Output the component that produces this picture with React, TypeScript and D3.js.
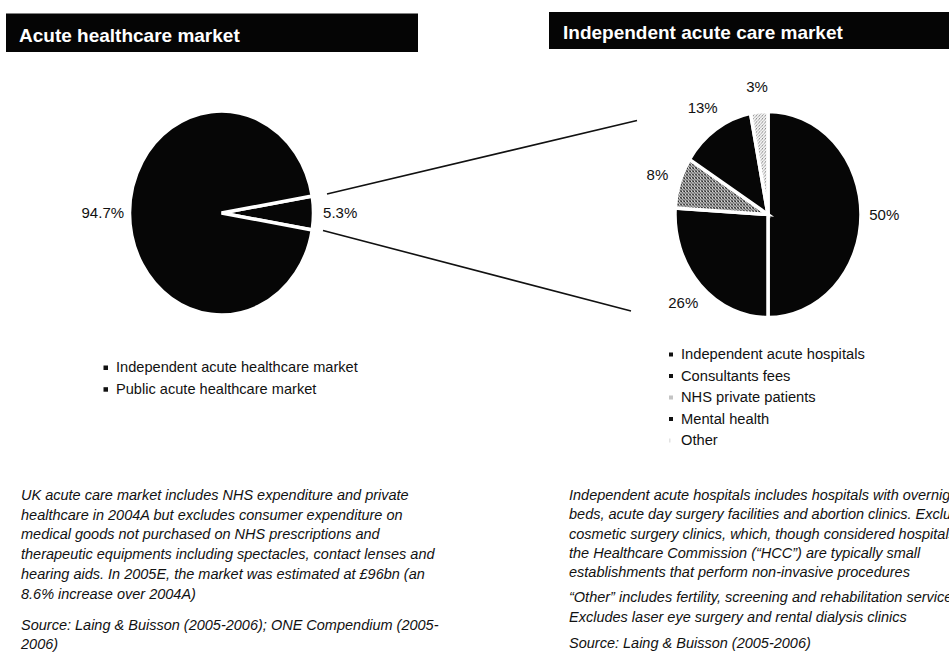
import React from "react";
import * as d3 from "d3";

// ---- Data ----
const acuteCategories = ["Independent acute healthcare market", "Public acute healthcare market"];
const acuteValues = [5.3, 94.7];
const acuteLabels = ["5.3%", "94.7%"];

const independentCategories = [
  "Independent acute hospitals",
  "Consultants fees",
  "NHS private patients",
  "Mental health",
  "Other",
];
const independentValues = [50, 26, 8, 13, 3];
const independentLabels = ["50%", "26%", "8%", "13%", "3%"];

const leftTitle = "Acute healthcare market";
const rightTitle = "Independent acute care market";

const leftNotes = [
  "UK acute care market includes NHS expenditure and private",
  "healthcare in 2004A but excludes consumer expenditure on",
  "medical goods not purchased on NHS prescriptions and",
  "therapeutic equipments including spectacles, contact lenses and",
  "hearing aids.  In 2005E, the market was estimated at £96bn (an",
  "8.6% increase over 2004A)",
];
const leftSource = ["Source: Laing & Buisson (2005-2006); ONE Compendium (2005-", "2006)"];

const rightNotes = [
  "Independent acute hospitals includes hospitals with overnight",
  "beds, acute day surgery facilities and abortion clinics. Excludes",
  "cosmetic surgery clinics, which, though considered hospitals by",
  "the Healthcare Commission (\u201CHCC\u201D) are typically small",
  "establishments that perform non-invasive procedures",
];
const rightOther = [
  "\u201COther\u201D includes fertility, screening and rehabilitation services.",
  "Excludes laser eye surgery and rental dialysis clinics",
];
const rightSource = ["Source: Laing & Buisson (2005-2006)"];

// ---- Styles ----
const FONT = "'Liberation Sans', Arial, Helvetica, sans-serif";
const leftFills = ["#060606", "#060606"];
const rightFills = ["#060606", "#060606", "url(#halftoneDark)", "#060606", "url(#halftoneLight)"];
const rightLegendFills = ["#111", "#111", "#c4c4c4", "#111", "#e2e2e2"];

type PieProps = {
  values: number[];
  labels: string[];
  fills: string[];
  cx: number;
  cy: number;
  rx: number;
  ry: number;
  start: number;
  labelK: number;
};

function EllipsePie({ values, labels, fills, cx, cy, rx, ry, start, labelK }: PieProps) {
  const pie = d3
    .pie<number>()
    .sort(null)
    .value((d) => d)
    .startAngle(start)
    .endAngle(start + 2 * Math.PI);
  const arcs = pie(values);
  const arc = d3.arc<d3.PieArcDatum<number>>().innerRadius(0).outerRadius(rx);
  return (
    <g>
      <g transform={`translate(${cx},${cy}) scale(1,${ry / rx})`}>
        {arcs.map((a, i) => (
          <path
            key={i}
            d={arc(a) || ""}
            fill={fills[i]}
            stroke="#fff"
            strokeWidth={3.5}
            strokeLinejoin="miter"
            vectorEffect="non-scaling-stroke"
          />
        ))}
      </g>
      {arcs.map((a, i) => {
        const m = (a.startAngle + a.endAngle) / 2;
        const x = cx + Math.sin(m) * rx * labelK;
        const y = cy - Math.cos(m) * ry * labelK;
        return (
          <text
            key={"l" + i}
            x={x}
            y={y}
            dy="0.36em"
            textAnchor="middle"
            fontFamily={FONT}
            fontSize={15}
            fill="#111"
          >
            {labels[i]}
          </text>
        );
      })}
    </g>
  );
}

export default function App() {
  const W = 949;
  const H = 660;
  const leftStart = Math.PI / 2 - (acuteValues[0] / d3.sum(acuteValues)) * Math.PI;

  return (
    <div style={{ position: "absolute", left: 0, top: 0, width: W, height: H, overflow: "hidden", background: "#fff" }}>
      <svg width={W} height={H} viewBox={`0 0 ${W} ${H}`} style={{ display: "block" }}>
        <defs>
          <pattern id="halftoneDark" width={3} height={3} patternUnits="userSpaceOnUse">
            <rect width={3} height={3} fill="#d8d8d8" />
            <rect x={0} y={0} width={1} height={1} fill="#222" />
            <rect x={1} y={1} width={1} height={1} fill="#444" />
            <rect x={2} y={2} width={1} height={1} fill="#333" />
            <rect x={2} y={0} width={1} height={1} fill="#777" />
            <rect x={0} y={2} width={1} height={1} fill="#666" />
          </pattern>
          <pattern id="halftoneLight" width={3} height={3} patternUnits="userSpaceOnUse">
            <rect width={3} height={3} fill="#f2f2f2" />
            <rect x={0} y={0} width={1} height={1} fill="#888" />
            <rect x={2} y={1} width={1} height={1} fill="#aaa" />
            <rect x={1} y={2} width={1} height={1} fill="#bbb" />
          </pattern>
        </defs>

        {/* Title bars */}
        <rect x={6} y={13.5} width={412} height={38.5} fill="#050505" />
        <text x={19} y={41.5} fill="#fff" fontFamily={FONT} fontWeight="bold" fontSize={19}>
          {leftTitle}
        </text>
        <rect x={549} y={12} width={400} height={37} fill="#050505" />
        <text x={563} y={39} fill="#fff" fontFamily={FONT} fontWeight="bold" fontSize={19}>
          {rightTitle}
        </text>

        {/* Connector lines */}
        <line x1={327} y1={194} x2={637} y2={120.5} stroke="#111" strokeWidth={1.6} />
        <line x1={323} y1={230.5} x2={631} y2={311} stroke="#111" strokeWidth={1.6} />

        {/* Left pie */}
        <EllipsePie
          values={acuteValues}
          labels={acuteLabels}
          fills={leftFills}
          cx={221.5}
          cy={213}
          rx={92}
          ry={102}
          start={leftStart}
          labelK={1.29}
        />

        {/* Right pie */}
        <EllipsePie
          values={independentValues}
          labels={independentLabels}
          fills={rightFills}
          cx={768}
          cy={214.5}
          rx={93}
          ry={103}
          start={0}
          labelK={1.25}
        />

        {/* Left legend */}
        {acuteCategories.map((c, i) => (
          <g key={c}>
            <rect x={103.5} y={365.5 + i * 21.7} width={4.5} height={4.5} fill="#111" />
            <text x={116} y={372 + i * 21.7} fontFamily={FONT} fontSize={14.6} fill="#111">
              {c}
            </text>
          </g>
        ))}

        {/* Right legend */}
        {independentCategories.map((c, i) => (
          <g key={c}>
            <rect
              x={669}
              y={352.5 + i * 21.5}
              width={i === 4 ? 1.5 : 4}
              height={4}
              fill={rightLegendFills[i]}
            />
            <text x={681} y={359 + i * 21.5} fontFamily={FONT} fontSize={14.7} fill="#111">
              {c}
            </text>
          </g>
        ))}

        {/* Left notes */}
        <g fontFamily={FONT} fontStyle="italic" fontSize={14.5} fill="#111">
          {leftNotes.map((t, i) => (
            <text key={"ln" + i} x={21} y={500 + i * 19.7}>
              {t}
            </text>
          ))}
          {leftSource.map((t, i) => (
            <text key={"ls" + i} x={21} y={630 + i * 19.3}>
              {t}
            </text>
          ))}
        </g>

        {/* Right notes */}
        <g fontFamily={FONT} fontStyle="italic" fontSize={14.5} fill="#111">
          {rightNotes.map((t, i) => (
            <text key={"rn" + i} x={569} y={500 + i * 19.3}>
              {t}
            </text>
          ))}
          {rightOther.map((t, i) => (
            <text key={"ro" + i} x={569} y={602 + i * 19.5}>
              {t}
            </text>
          ))}
          {rightSource.map((t, i) => (
            <text key={"rs" + i} x={569} y={648 + i * 19.5}>
              {t}
            </text>
          ))}
        </g>
      </svg>
    </div>
  );
}
